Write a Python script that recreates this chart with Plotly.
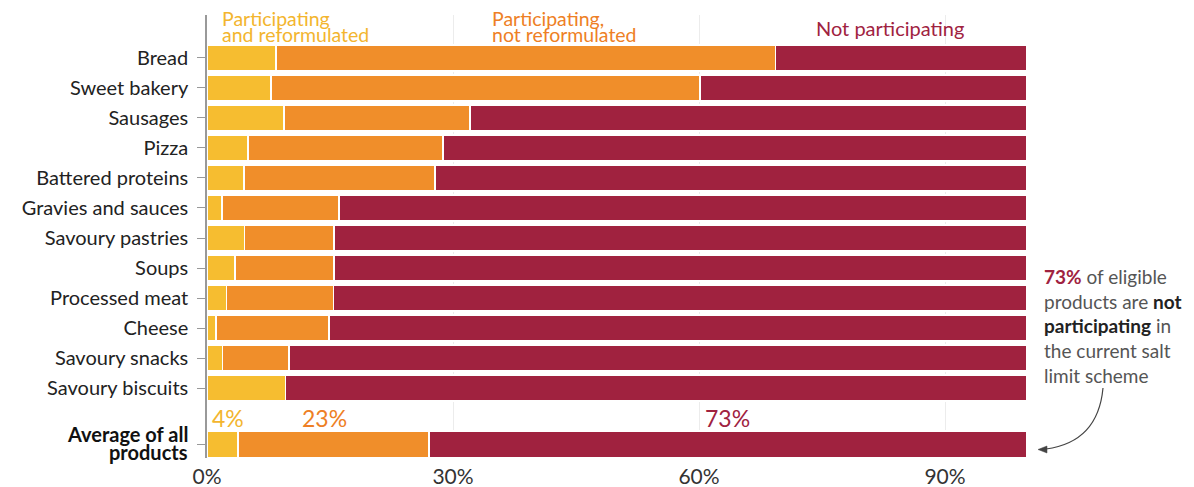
import plotly.graph_objects as go

categories = ["Bread", "Sweet bakery", "Sausages", "Pizza", "Battered proteins",
              "Gravies and sauces", "Savoury pastries", "Soups", "Processed meat",
              "Cheese", "Savoury snacks", "Savoury biscuits", "Average of all products"]
reformulated = [8.4, 7.8, 9.4, 5.0, 4.5, 1.8, 4.6, 3.4, 2.4, 1.1, 1.9, 9.6, 3.8]
not_reformulated = [60.9, 52.3, 22.7, 23.8, 23.3, 14.3, 10.9, 12.1, 13.0, 13.8, 8.1, 0.0, 23.3]
not_participating = [30.7, 39.9, 67.9, 71.2, 72.2, 83.9, 84.5, 84.5, 84.6, 85.1, 90.0, 90.4, 72.9]
x_ticks = [0, 30, 60, 90]
x_tick_labels = ["0%", "30%", "60%", "90%"]

YELLOW = "#F6BD30"
ORANGE = "#F08E2A"
RED = "#A0223F"
FONT = "Lato"

# y positions: regular rows 0..11, the average row set apart
ypos = list(range(len(categories) - 1)) + [len(categories) - 1 + 0.87]
ticktext = categories[:-1] + [""]

fig = go.Figure()
series = [("Participating and reformulated", reformulated, YELLOW),
          ("Participating, not reformulated", not_reformulated, ORANGE),
          ("Not participating", not_participating, RED)]
for name, vals, col in series:
    fig.add_trace(go.Bar(
        y=ypos, x=vals, name=name, orientation="h",
        marker=dict(color=col, line=dict(color="white", width=1.5)),
        width=0.87, showlegend=False, hoverinfo="x+name"))

fig.update_layout(
    barmode="stack",
    width=1194, height=487,
    margin=dict(l=207, r=167, t=15, b=29),
    paper_bgcolor="white", plot_bgcolor="white",
    font=dict(family=FONT, color="#222"),
    xaxis=dict(range=[0, 100], tickvals=x_ticks, ticktext=x_tick_labels,
               showgrid=True, gridcolor="#ECECEC", gridwidth=1, automargin=False,
               zeroline=False, showline=False, ticks="", ticklabelstandoff=4,
               tickfont=dict(size=21, color="#333", family=FONT)),
    yaxis=dict(range=[13.33, -1.43], tickvals=ypos, ticktext=ticktext,
               showgrid=False, zeroline=False, showline=True, linecolor="#999",
               linewidth=1.5, ticks="outside", ticklen=8, tickcolor="#999",
               ticklabelstandoff=5, automargin=False,
               tickfont=dict(size=20, color="#222", family=FONT)),
)

# Average row label (two tight lines, bold)
avg_lines = ["Average of all", "products"]
for i, line in enumerate(avg_lines):
    fig.add_annotation(xref="paper", x=(190 - 207) / 820, y=ypos[-1] - 0.33 + 0.6 * i,
                       text=f"<b>{line}</b>", showarrow=False, xanchor="right",
                       yanchor="middle", font=dict(size=20, color="#111", family=FONT))

# Column headers (tight two-line headings)
headers = [
    (1.6, ["Participating", "and reformulated"], "#F3B52E"),
    (34.5, ["Participating,", "not reformulated"], "#EE7F25"),
]
for x, lines, col in headers:
    for i, line in enumerate(lines):
        fig.add_annotation(x=x, y=-1.33 + 0.56 * i, text=line, showarrow=False,
                           xanchor="left", yanchor="middle",
                           font=dict(size=19.5, color=col, family=FONT))
fig.add_annotation(x=74, y=-1.0, text="Not participating", showarrow=False,
                   xanchor="left", yanchor="middle",
                   font=dict(size=20, color="#A0223F", family=FONT))

# Average labels
avg_vals = [reformulated[-1], not_reformulated[-1], not_participating[-1]]
label_cols = ["#F3B52E", "#EE7F25", "#A0223F"]
offsets = [0.4, 11.4, 60.5]
for v, c, off in zip(avg_vals, label_cols, offsets):
    fig.add_annotation(x=off, y=ypos[-1] - 0.87, text=f"{round(v)}%", showarrow=False,
                       xanchor="left", yanchor="middle",
                       font=dict(size=23, color=c, family=FONT))

# Side note
fig.add_annotation(xref="paper", yref="paper", x=(1042 - 207) / 820, y=(458 - 263) / 443,
                   text=("<b><span style='color:#A0223F'>73%</span></b> of eligible<br>"
                         "products are <b><span style='color:#222'>not</span></b><br>"
                         "<b><span style='color:#222'>participating</span></b> in<br>"
                         "the current salt<br>limit scheme"),
                   showarrow=False, xanchor="left", yanchor="top", align="left",
                   font=dict(size=19, color="#555", family=FONT))

def px(xp, yp):
    return (xp - 207) / 820, (458 - yp) / 443

x0, y0 = px(1103, 388)
xc, yc = px(1098, 442)
x1, y1 = px(1046, 449)
fig.add_shape(type="path", xref="paper", yref="paper",
              path=f"M {x0},{y0} Q {xc},{yc} {x1},{y1}",
              line=dict(color="#444", width=1.2))
a1 = px(1038, 449.5)
a2 = px(1047, 446)
a3 = px(1047, 453)
fig.add_shape(type="path", xref="paper", yref="paper",
              path=f"M {a1[0]},{a1[1]} L {a2[0]},{a2[1]} L {a3[0]},{a3[1]} Z",
              line=dict(color="#444", width=0.5), fillcolor="#444")

fig.write_html("out.html")
